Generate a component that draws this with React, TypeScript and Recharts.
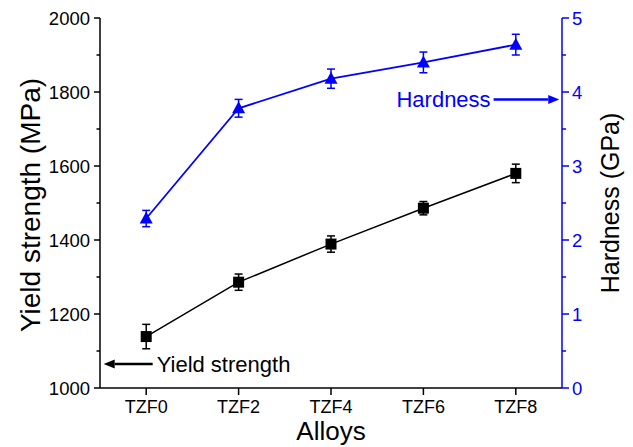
import {
  ComposedChart,
  Line,
  XAxis,
  YAxis,
  ErrorBar,
  ReferenceLine,
  Label,
} from 'recharts'

const alloys = ['TZF0', 'TZF2', 'TZF4', 'TZF6', 'TZF8']
const yieldStrength = [1139, 1286, 1389, 1486, 1580]
const yieldErr = [33, 22, 22, 18, 25]
const hardness = [2.29, 3.78, 4.18, 4.4, 4.64]
const hardnessErr = [0.11, 0.12, 0.13, 0.14, 0.14]

const yieldTicks = [1000, 1100, 1200, 1300, 1400, 1500, 1600, 1700, 1800, 1900, 2000]
const hardnessTicks = [0, 0.5, 1, 1.5, 2, 2.5, 3, 3.5, 4, 4.5, 5]
const alloyTicks = [0, 1, 2, 3, 4]

const BLUE = '#0000ff'
const FONT = "'Liberation Sans', Arial, sans-serif"

const data = alloys.map((name, i) => ({
  idx: i,
  name,
  ys: yieldStrength[i],
  ysErr: yieldErr[i],
  hv: hardness[i],
  hvErr: hardnessErr[i],
}))

function LeftTick(props: any) {
  const { x, y, payload } = props
  const major = payload.value % 200 === 0
  return (
    <g>
      <line x1={x - (major ? 6 : 3.5)} y1={y} x2={x} y2={y} stroke="#000" strokeWidth={1.5} />
      {major && (
        <text x={x - 10} y={y} dy="0.355em" textAnchor="end" fontSize={18.5} fontFamily={FONT} fill="#000">
          {payload.value}
        </text>
      )}
    </g>
  )
}

function RightTick(props: any) {
  const { x, y, payload } = props
  const major = Number.isInteger(payload.value)
  return (
    <g>
      <line x1={x} y1={y} x2={x + (major ? 7 : 4)} y2={y} stroke={BLUE} strokeWidth={1.5} />
      {major && (
        <text x={x + 10} y={y} dy="0.355em" textAnchor="start" fontSize={18.5} fontFamily={FONT} fill={BLUE}>
          {payload.value}
        </text>
      )}
    </g>
  )
}

function BottomTick(props: any) {
  const { x, y, payload } = props
  return (
    <g>
      <line x1={x} y1={y} x2={x} y2={y + 7} stroke="#000" strokeWidth={1.5} />
      <text x={x} y={y + 19} dy="0.355em" textAnchor="middle" fontSize={18} fontFamily={FONT} fill="#000">
        {alloys[payload.value]}
      </text>
    </g>
  )
}

function TopTick(props: any) {
  const { x, y } = props
  return <line x1={x} y1={y} x2={x} y2={y + 7} stroke="#000" strokeWidth={1.5} />
}

function SquareDot(props: any) {
  const { cx, cy, index } = props
  return <rect key={`s${index}`} x={cx - 5.5} y={cy - 5.5} width={11} height={11} fill="#000" />
}

function TriangleDot(props: any) {
  const { cx, cy, index } = props
  return (
    <polygon
      key={`t${index}`}
      points={`${cx},${cy - 7} ${cx - 6.5},${cy + 5} ${cx + 6.5},${cy + 5}`}
      fill={BLUE}
    />
  )
}

function arrowShape(text: string, color: string, side: 'left' | 'right') {
  return (props: any) => {
    const { x1, y1, x2, y2 } = props
    const dir = x2 > x1 ? 1 : -1
    const head = 11
    return (
      <g>
        <line x1={x1} y1={y1} x2={x2 - dir * head} y2={y2} stroke={color} strokeWidth={2.5} />
        <polygon
          points={`${x2},${y2} ${x2 - dir * head},${y2 - 4.5} ${x2 - dir * head},${y2 + 4.5}`}
          fill={color}
        />
        <text
          x={side === 'left' ? x1 - 3 : x1 + 4}
          y={y1}
          dy="0.355em"
          textAnchor={side === 'left' ? 'end' : 'start'}
          fontSize={22}
          fontFamily={FONT}
          fill={color}
        >
          {text}
        </text>
      </g>
    )
  }
}

export default function App() {
  return (
    <div style={{ position: 'absolute', left: 0, top: 0, background: '#fff' }}>
      <ComposedChart width={633} height={447} data={data} margin={{ top: 18, right: 0, bottom: 0, left: 0 }}>
        <XAxis
          xAxisId="bottom"
          type="number"
          dataKey="idx"
          domain={[-0.5, 4.5]}
          ticks={alloyTicks}
          height={59}
          tickSize={0}
          tickMargin={0}
          tick={<BottomTick />}
          axisLine={{ stroke: '#000', strokeWidth: 1.5 }}
          tickLine={false}
        >
          <Label value="Alloys" position="center" dy={13} fontSize={26} fontFamily={FONT} fill="#000" />
        </XAxis>
        <XAxis
          xAxisId="top"
          orientation="top"
          type="number"
          dataKey="idx"
          domain={[-0.5, 4.5]}
          ticks={alloyTicks}
          height={0}
          tickSize={0}
          tickMargin={0}
          tick={<TopTick />}
          axisLine={{ stroke: '#000', strokeWidth: 1.5 }}
          tickLine={false}
        />
        <YAxis
          yAxisId="ys"
          domain={[1000, 2000]}
          ticks={yieldTicks}
          width={100}
          tickSize={0}
          tickMargin={0}
          tick={<LeftTick />}
          axisLine={{ stroke: '#000', strokeWidth: 1.5 }}
          tickLine={false}
          interval={0}
        >
          <Label
            value="Yield strength (MPa)"
            position="center"
            angle={-90}
            dx={-20}
            dy={2}
            fontSize={28}
            fontFamily={FONT}
            fill="#000"
          />
        </YAxis>
        <YAxis
          yAxisId="hv"
          orientation="right"
          domain={[0, 5]}
          ticks={hardnessTicks}
          width={71}
          tickSize={0}
          tickMargin={0}
          tick={<RightTick />}
          axisLine={{ stroke: BLUE, strokeWidth: 1.5 }}
          tickLine={false}
          interval={0}
        >
          <Label
            value="Hardness (GPa)"
            position="center"
            angle={-90}
            dx={13}
            fontSize={25}
            fontFamily={FONT}
            fill="#000"
          />
        </YAxis>
        <Line
          xAxisId="bottom"
          yAxisId="ys"
          dataKey="ys"
          stroke="#000"
          strokeWidth={1.5}
          dot={SquareDot}
          isAnimationActive={false}
        >
          <ErrorBar dataKey="ysErr" width={4} stroke="#000" strokeWidth={1.5} />
        </Line>
        <Line
          xAxisId="bottom"
          yAxisId="hv"
          dataKey="hv"
          stroke={BLUE}
          strokeWidth={1.8}
          dot={TriangleDot}
          isAnimationActive={false}
        >
          <ErrorBar dataKey="hvErr" width={4} stroke={BLUE} strokeWidth={1.5} />
        </Line>
        <ReferenceLine
          xAxisId="bottom"
          yAxisId="hv"
          segment={[{ x: 3.76, y: 3.9 }, { x: 4.47, y: 3.9 }]}
          shape={arrowShape('Hardness', BLUE, 'left')}
        />
        <ReferenceLine
          xAxisId="bottom"
          yAxisId="ys"
          segment={[{ x: 0.07, y: 1065 }, { x: -0.46, y: 1065 }]}
          shape={arrowShape('Yield strength', '#000', 'right')}
        />
      </ComposedChart>
    </div>
  )
}
